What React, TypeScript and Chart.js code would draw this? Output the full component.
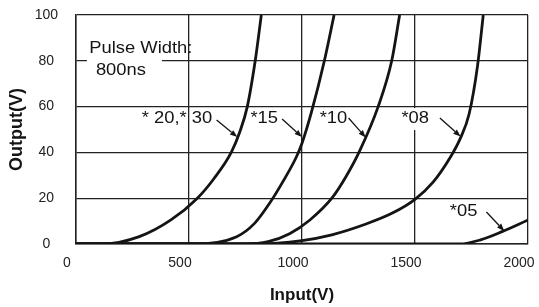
import React, { useEffect, useRef } from "react";
import { Chart, registerables } from "chart.js";

Chart.register(...registerables);

// ---- axis ranges / ticks ----
const xMin = 0;
const xMax = 2000;
const xStep = 500;
const yMin = 0;
const yMax = 100;
const yStep = 20;

const xTitle = "Input(V)";
const yTitle = "Output(V)";

// ---- series (Input V -> Output V) ----
const curve2030X = [0, 120, 280, 420, 537, 610, 687, 725, 758, 793, 820];
const curve2030Y = [0, 0, 3.2, 10.5, 20, 28.5, 40, 49, 60, 80, 100];

const curve15X = [0, 520, 711, 790, 858, 920, 975, 1000, 1043, 1099, 1142];
const curve15Y = [0, 0, 3.2, 9, 18, 28, 38, 44, 58, 80, 100];

const curve10X = [0, 750, 850, 945, 1035, 1132, 1195, 1252, 1337, 1397, 1432];
const curve10Y = [0, 0, 1, 4.5, 10.5, 20, 29.5, 40, 60, 80, 100];

const curve08X = [0, 800, 1000, 1132, 1277, 1400, 1500, 1580, 1657, 1700, 1740, 1777, 1802];
const curve08Y = [0, 0, 1.5, 4, 8.5, 13.5, 19.5, 27, 38, 46, 57, 78, 100];

const curve05X = [0, 1700, 1790, 1885, 2000];
const curve05Y = [0, 0, 1.8, 5.4, 10.5];

const seriesNames = ["*20,*30", "*15", "*10", "*08", "*05"];
const seriesX = [curve2030X, curve15X, curve10X, curve08X, curve05X];
const seriesY = [curve2030Y, curve15Y, curve10Y, curve08Y, curve05Y];

// ---- annotation texts ----
const noteTexts = ["Pulse Width:", "800ns", "* 20,* 30", "*15", "*10", "*08", "*05"];
const noteX = [59, 88, 603, 772, 1078, 1440, 1654];
const noteY = [85.6, 76.0, 55.0, 55.0, 55.0, 55.0, 14.4];
const noteAlign = ["left", "left", "right", "left", "left", "left", "left"];
// white background padding [top, right, bottom, left] or null
const noteBg: (number[] | null)[] = [null, [7, 16, 4, 9], null, null, null, [4, 3, 6, 3], null];

// ---- arrows (from -> to, data coords) ----
const arrowFromX = [622, 912, 1206, 1610, 1816];
const arrowFromY = [54.1, 54.6, 55.0, 55.0, 14.0];
const arrowToX = [714, 1000, 1282, 1702, 1895];
const arrowToY = [46.7, 46.7, 46.5, 46.9, 5.7];

const FONT = "'Liberation Sans', Arial, Helvetica, sans-serif";
const INK = "#141414";
const TEXT_SX = 1.08;

const notesPlugin = {
  id: "notes",
  afterDatasetsDraw(chart: any) {
    const { ctx, scales } = chart;
    const x = scales.x;
    const y = scales.y;
    ctx.save();
    ctx.font = `17px ${FONT}`;
    ctx.textBaseline = "middle";
    ctx.textAlign = "left";
    const boxes = noteTexts.map((t, i) => {
      const px = x.getPixelForValue(noteX[i]);
      const py = y.getPixelForValue(noteY[i]);
      const w = ctx.measureText(t).width * TEXT_SX;
      const left = noteAlign[i] === "right" ? px - w : px;
      return { t, left, py, w, bg: noteBg[i] };
    });
    ctx.fillStyle = "#ffffff";
    for (const b of boxes) {
      if (b.bg) {
        const [pt, pr, pb, pl] = b.bg;
        ctx.fillRect(b.left - pl, b.py - 6 - pt, b.w + pl + pr, 12 + pt + pb);
      }
    }
    ctx.fillStyle = INK;
    for (const b of boxes) {
      ctx.save();
      ctx.translate(b.left, b.py);
      ctx.scale(TEXT_SX, 1);
      ctx.fillText(b.t, 0, 0);
      ctx.restore();
    }
    ctx.strokeStyle = INK;
    ctx.lineWidth = 1.3;
    for (let i = 0; i < arrowFromX.length; i++) {
      const x1 = x.getPixelForValue(arrowFromX[i]);
      const y1 = y.getPixelForValue(arrowFromY[i]);
      const x2 = x.getPixelForValue(arrowToX[i]);
      const y2 = y.getPixelForValue(arrowToY[i]);
      const ang = Math.atan2(y2 - y1, x2 - x1);
      const L = 7.5;
      const H = 2.8;
      const bx = x2 - L * Math.cos(ang);
      const by = y2 - L * Math.sin(ang);
      ctx.beginPath();
      ctx.moveTo(x1, y1);
      ctx.lineTo(bx, by);
      ctx.stroke();
      ctx.beginPath();
      ctx.moveTo(x2, y2);
      ctx.lineTo(bx + H * Math.sin(ang), by - H * Math.cos(ang));
      ctx.lineTo(bx - H * Math.sin(ang), by + H * Math.cos(ang));
      ctx.closePath();
      ctx.fill();
    }
    ctx.restore();
  },
};

export default function App() {
  const canvasRef = useRef<HTMLCanvasElement | null>(null);

  useEffect(() => {
    document.body.style.margin = "0";
    document.body.style.overflow = "hidden";
    const canvas = canvasRef.current;
    if (!canvas) return;

    const datasets = seriesNames.map((name, i) => ({
      label: name,
      data: seriesX[i].map((xv, j) => ({ x: xv, y: seriesY[i][j] })),
      borderColor: INK,
      backgroundColor: INK,
      borderWidth: 2.8,
      pointRadius: 0,
      fill: false,
      cubicInterpolationMode: "monotone" as const,
    }));

    const chart = new Chart(canvas, {
      type: "line",
      data: { datasets },
      plugins: [notesPlugin],
      options: {
        responsive: false,
        animation: false,
        devicePixelRatio: 1,
        layout: { padding: { top: 15, right: 11, bottom: 0, left: 0 } },
        plugins: {
          legend: { display: false },
          tooltip: { enabled: false },
        },
        scales: {
          x: {
            type: "linear",
            min: xMin,
            max: xMax,
            ticks: {
              stepSize: xStep,
              padding: 11,
              labelOffset: -9,
              maxRotation: 0,
              autoSkip: false,
              color: "#222",
              font: { family: FONT, size: 14 },
              callback: (v: any) => String(v),
            },
            grid: { color: "#222", lineWidth: 1.3, drawTicks: false },
            border: { color: "#222", width: 1.5 },
            title: {
              display: true,
              text: xTitle,
              color: INK,
              font: { family: FONT, size: 17, weight: "bold" },
              padding: { top: 0, bottom: 1 },
            },
            afterFit(s: any) {
              s.height = 63;
              s.paddingRight = 0;
              s.paddingLeft = 0;
            },
          },
          y: {
            type: "linear",
            min: yMin,
            max: yMax,
            ticks: {
              stepSize: yStep,
              padding: 18,
              crossAlign: "center",
              color: "#222",
              font: { family: FONT, size: 14 },
              callback: (v: any) => String(v),
            },
            grid: { color: "#222", lineWidth: 1.3, drawTicks: false },
            border: { color: "#222", width: 1.5 },
            title: {
              display: true,
              text: yTitle,
              color: INK,
              font: { family: FONT, size: 18, weight: "bold" },
              padding: { top: 6, bottom: 0 },
            },
            afterFit(s: any) {
              s.width = 76;
              s.paddingTop = 0;
              s.paddingBottom = 0;
            },
          },
        },
      } as any,
    });
    return () => chart.destroy();
  }, []);

  return (
    <div style={{ width: 539, height: 307, overflow: "hidden", background: "#fff" }}>
      <canvas ref={canvasRef} width={539} height={307} style={{ display: "block" }} />
    </div>
  );
}
